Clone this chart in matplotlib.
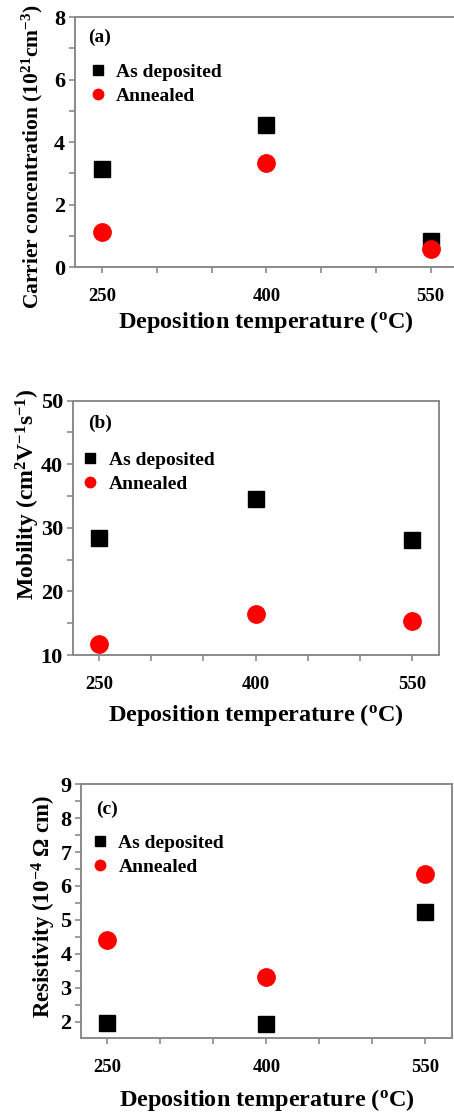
import matplotlib
matplotlib.use("Agg")
from matplotlib import pyplot as plt
from matplotlib.ticker import FixedLocator

plt.rcParams['font.family'] = ['Liberation Serif', 'DejaVu Serif']
plt.rcParams['font.weight'] = 'bold'
plt.rcParams['mathtext.default'] = 'regular'

temperatures = [250, 400, 550]
carrier_deposited = [3.15, 4.53, 0.83]
carrier_annealed = [1.13, 3.34, 0.58]
mobility_deposited = [28.35, 34.5, 28.1]
mobility_annealed = [11.7, 16.45, 15.4]
resistivity_deposited = [1.97, 1.93, 5.23]
resistivity_annealed = [4.41, 3.31, 6.35]

series_labels = ['As deposited', 'Annealed']
xlabel_text = r'Deposition temperature ($^{o}$C)'

panels = [
    dict(tag='(a)', dep=carrier_deposited, ann=carrier_annealed,
         ylabel=r'Carrier concentration (10$^{21}$cm$^{-3}$)', ylab_size=15.5,
         ylim=(0, 8), yticks=[0, 2, 4, 6, 8], yminor=[1, 3, 5, 7],
         rect=[0.165, 0.7603, 0.8436, 0.2244],
         ylab_xy=(-0.11, 0.44), xlab_xy=(0.499, -0.22),
         tag_xy=(0.034, 0.92), leg_xy=(0.034, 0.732)),
    dict(tag='(b)', dep=mobility_deposited, ann=mobility_annealed,
         ylabel=r'Mobility (cm$^{2}$V$^{-1}$s$^{-1}$)', ylab_size=17,
         ylim=(10, 50), yticks=[10, 20, 30, 40, 50], yminor=[15, 25, 35, 45],
         rect=[0.160, 0.412, 0.806, 0.2283],
         ylab_xy=(-0.122, 0.633), xlab_xy=(0.502, -0.236),
         tag_xy=(0.042, 0.912), leg_xy=(0.021, 0.72)),
    dict(tag='(c)', dep=resistivity_deposited, ann=resistivity_annealed,
         ylabel=r'Resistivity (10$^{-4}$ $\Omega$ cm)', ylab_size=16.5,
         ylim=(1.525, 9), yticks=[2, 3, 4, 5, 6, 7, 8, 9],
         yminor=[2.5, 3.5, 4.5, 5.5, 6.5, 7.5, 8.5],
         rect=[0.1784, 0.0685, 0.817, 0.2275],
         ylab_xy=(-0.1, 0.517), xlab_xy=(0.501, -0.246),
         tag_xy=(0.040, 0.902), leg_xy=(0.025, 0.721)),
]

fig = plt.figure(figsize=(4.54, 11.14), dpi=100)

for p in panels:
    ax = fig.add_axes(p['rect'])
    ax.plot(temperatures, p['dep'], linestyle='none', marker='s', markersize=12,
            color='black', label=series_labels[0])
    ax.plot(temperatures, p['ann'], linestyle='none', marker='o', markersize=12.5,
            color='#ff0000', label=series_labels[1])
    ax.set_xlim(225, 575)
    ax.set_ylim(*p['ylim'])
    ax.set_xticks(temperatures)
    ax.xaxis.set_minor_locator(FixedLocator([300, 350, 450, 500]))
    ax.set_yticks(p['yticks'])
    ax.yaxis.set_minor_locator(FixedLocator(p['yminor']))
    for s in ax.spines.values():
        s.set_color('#8a8a8a')
        s.set_linewidth(1.4)
    ax.tick_params(axis='both', which='both', direction='out', color='#8a8a8a', width=1.2)
    ax.tick_params(axis='x', which='both', length=4, pad=11, labelsize=13.5)
    ax.tick_params(axis='y', which='both', length=4, pad=3, labelsize=16)
    for lbl in ax.get_xticklabels() + ax.get_yticklabels():
        lbl.set_fontweight('bold')

    ax.set_ylabel(p['ylabel'], fontsize=p['ylab_size'], fontweight='bold', va='center', ha='center')
    ax.yaxis.set_label_coords(*p['ylab_xy'])
    ax.set_xlabel(xlabel_text, fontsize=17.5, fontweight='bold', va='center', ha='center')
    ax.xaxis.set_label_coords(*p['xlab_xy'])

    ax.text(p['tag_xy'][0], p['tag_xy'][1], p['tag'], transform=ax.transAxes,
            fontsize=14, fontweight='bold', ha='left', va='center')
    ax.legend(loc='center left', bbox_to_anchor=p['leg_xy'], frameon=False,
              borderpad=0, borderaxespad=0, handlelength=1.0, handletextpad=0.45,
              labelspacing=0.35, markerscale=0.6, prop={'size': 14, 'weight': 'bold'})

fig.savefig('out.png', dpi=100)
